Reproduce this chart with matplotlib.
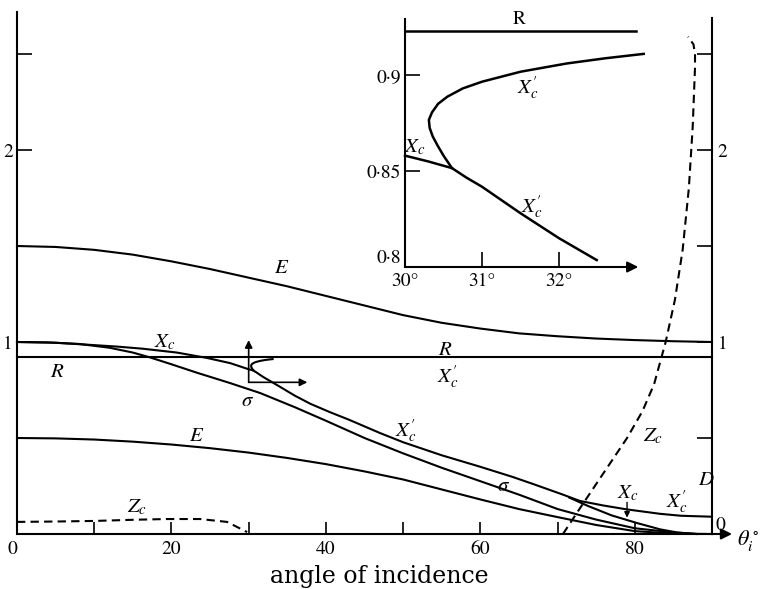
import numpy as np
import matplotlib.pyplot as plt

plt.rcParams['font.family'] = 'STIXGeneral'
plt.rcParams['mathtext.fontset'] = 'stix'

# --- curves against angle of incidence (degrees) ---
r_level = 0.923
r_x = [0, 90]

e_top_x = [0, 5, 10, 15, 20, 25, 30, 35, 40, 45, 50, 55, 60, 65, 70, 75, 80, 85, 90]
e_top_y = [1.50, 1.495, 1.48, 1.455, 1.42, 1.38, 1.335, 1.29, 1.24, 1.19,
           1.14, 1.10, 1.07, 1.045, 1.03, 1.018, 1.01, 1.004, 1.0]

e_low_x = [0, 5, 10, 15, 20, 25, 30, 35, 40, 45, 50, 55, 60, 65, 70, 75, 80, 85, 90]
e_low_y = [0.50, 0.498, 0.492, 0.481, 0.466, 0.447, 0.424, 0.396, 0.364, 0.326,
           0.284, 0.232, 0.18, 0.13, 0.088, 0.047, 0.015, 0.002, 0.0]

sigma_x = [0, 4, 8, 12, 15, 17.2, 20, 23.3, 27.6, 31.5, 36, 40, 45, 50, 55,
           60, 65, 70, 75, 80, 85, 88]
sigma_y = [1.0, 0.998, 0.99, 0.97, 0.945, 0.92, 0.884, 0.84, 0.786, 0.734, 0.66,
           0.59, 0.50, 0.42, 0.345, 0.275, 0.205, 0.13, 0.075, 0.03, 0.008, 0.0]

# X_c before it meets X_c' near 30.6 deg, and after it leaves near 71.5 deg
xc_head_x = [0, 5, 9.5, 13, 16.3, 20.7, 24.6, 27.6, 30.0, 30.3, 30.61]
xc_head_y = [1.0, 0.996, 0.985, 0.976, 0.965, 0.945, 0.917, 0.89, 0.858, 0.855, 0.8515]
xc_tail_x = [71.5, 74, 77, 80.3, 83.3, 85.5, 88]
xc_tail_y = [0.19, 0.145, 0.097, 0.057, 0.024, 0.008, 0.0]

# X_c' around its turning point (also drawn in the enlarged panel)
xcp_near_x = [33.1, 32.6, 32.1, 31.5, 31.0, 30.75, 30.55, 30.43, 30.35, 30.31, 30.32,
              30.36, 30.42, 30.5, 30.61, 30.8, 31.0, 31.5, 32.0, 32.49]
xcp_near_y = [0.911, 0.9087, 0.906, 0.9017, 0.8965, 0.893, 0.8887, 0.885, 0.8805,
              0.8766, 0.8725, 0.868, 0.8635, 0.858, 0.8515, 0.8465, 0.8418, 0.828,
              0.815, 0.8036]
# X_c' lower branch continued to grazing incidence
xcp_far_x = [34, 36, 38, 40.5, 43, 47, 50, 55, 60, 64.2, 67, 70.7, 72.9, 76, 79,
             83.3, 86, 90]
xcp_far_y = [0.768, 0.72, 0.678, 0.635, 0.595, 0.526, 0.478, 0.41, 0.35, 0.297,
             0.258, 0.205, 0.172, 0.148, 0.128, 0.105, 0.095, 0.09]

zc_left_x = [0, 5, 10, 15, 19.4, 23.7, 27.2, 29.8]
zc_left_y = [0.063, 0.065, 0.068, 0.074, 0.078, 0.078, 0.063, 0.01]
zc_right_x = [70.7, 73, 76, 79, 81, 82.5, 84, 85.2, 86.2, 87.0, 87.5, 87.8, 87.8, 87.6, 86.9]
zc_right_y = [0.0, 0.14, 0.32, 0.50, 0.64, 0.78, 1.0, 1.22, 1.48, 1.80, 2.12, 2.43,
              2.50, 2.55, 2.59]

inset_x = [30, 33]
main_ticks_x = [0, 10, 20, 30, 40, 50, 60, 70, 80]
main_labels_x = ['0', '', '20', '', '40', '', '60', '', '80']

XCP = r"$X_c^{\prime}$"

lw = 1.5
fig = plt.figure(figsize=(7.64, 5.89), dpi=100)
ax = fig.add_axes([17 / 764, 55 / 589, 695 / 764, 2.72 * 192 / 589])
ax.set_xlim(0, 90)
ax.set_ylim(0, 2.72)
for s in ['top', 'bottom', 'right']:
    ax.spines[s].set_visible(False)
ax.spines['left'].set_linewidth(lw)

ax.set_xticks(main_ticks_x)
ax.set_xticklabels(main_labels_x)
ax.set_yticks([1, 2, 2.5])
ax.set_yticklabels(['1', '2', ''])
ax.tick_params(axis='x', direction='in', length=9, width=1.2, labelsize=14, pad=5)
ax.tick_params(axis='y', direction='in', length=11, width=1.2, labelsize=14, pad=3)
ax.get_xticklabels()[0].set_ha('right')

axr = ax.twinx()
axr.set_ylim(0, 2.72)
for s in ['top', 'bottom', 'left']:
    axr.spines[s].set_visible(False)
axr.spines['right'].set_bounds(0, 2.69)
axr.spines['right'].set_linewidth(lw)
axr.set_yticks([0.5, 1, 1.5, 2, 2.5])
axr.set_yticklabels(['', '1', '', '2', ''])
axr.tick_params(axis='y', direction='in', length=11, width=1.2, labelsize=14, pad=4)

# x axis with arrow head
ax.annotate('', xy=(92.6, 0), xytext=(0, 0), annotation_clip=False,
            arrowprops=dict(arrowstyle='-|>', lw=lw, color='k', mutation_scale=16,
                            shrinkA=0, shrinkB=0))

k = dict(color='k', lw=lw, clip_on=False)
ax.plot(r_x, [r_level, r_level], **k)
ax.plot(e_top_x, e_top_y, **k)
ax.plot(e_low_x, e_low_y, **k)
ax.plot(sigma_x, sigma_y, **k)
ax.plot(xc_head_x, xc_head_y, **k)
ax.plot(xc_tail_x, xc_tail_y, **k)
ax.plot(xcp_near_x + xcp_far_x, xcp_near_y + xcp_far_y, **k)
ax.plot(zc_left_x, zc_left_y, ls=(0, (4, 2.5)), **k)
ax.plot(zc_right_x, zc_right_y, ls=(0, (4, 2.5)), **k)

# small axes marking the enlarged region
arr = dict(arrowstyle='-|>', lw=1.2, color='k', mutation_scale=11, shrinkA=0, shrinkB=0)
ax.annotate('', xy=(inset_x[0], 1.01), xytext=(inset_x[0], 0.79), arrowprops=arr)
ax.annotate('', xy=(37.6, 0.79), xytext=(inset_x[0], 0.79), arrowprops=arr)

# X_c pointer near grazing incidence
ax.annotate('', xy=(79.0, 0.085), xytext=(79.0, 0.165),
            arrowprops=dict(arrowstyle='-|>', lw=1.0, color='k', mutation_scale=8,
                            shrinkA=0, shrinkB=0))

fs = 15
lab = dict(fontsize=fs, ha='center', va='center')
ax.text(34.3, 1.385, r'$E$', **lab)
ax.text(23.3, 0.51, r'$E$', **lab)
ax.text(19.2, 1.0, r'$X_c$', **lab)
ax.text(5.2, 0.844, r'$R$', **lab)
ax.text(29.9, 0.69, r'$\sigma$', **lab)
ax.text(55.4, 0.958, r'$R$', **lab)
ax.text(55.8, 0.818, XCP, **lab)
ax.text(50.3, 0.54, XCP, **lab)
ax.text(63.0, 0.25, r'$\sigma$', **lab)
ax.text(79.1, 0.213, r'$X_c$', **lab)
ax.text(85.5, 0.167, XCP, **lab)
ax.text(89.3, 0.28, r'$D$', **lab)
ax.text(82.3, 0.51, r'$Z_c$', **lab)
ax.text(15.5, 0.14, r'$Z_c$', **lab)
ax.text(90.4, 0.045, '0', fontsize=14, ha='left', va='center')
ax.text(94.7, -0.036, r'$\theta_i^\circ$', fontsize=16, ha='center', va='center')

fig.text(0.497, 0.022, 'angle of incidence', fontsize=17, family='DejaVu Serif',
         ha='center', va='center')

# enlarged view of the turning point of X_c'
axi = fig.add_axes([405 / 764, (589 - 267) / 589, 231 / 764, 0.129 * 1920 / 589])
axi.set_xlim(30, 33)
axi.set_ylim(0.8, 0.929)
axi.patch.set_alpha(0)
for s in ['top', 'bottom', 'right']:
    axi.spines[s].set_visible(False)
axi.spines['left'].set_linewidth(lw)
axi.set_xticks([30, 31, 32])
axi.set_xticklabels(['30°', '31°', '32°'])
axi.set_yticks([0.8, 0.85, 0.9])
axi.set_yticklabels(['0·8', '0·85', '0·9'])
axi.tick_params(direction='in', length=11, width=1.2, labelsize=14, pad=3)
axi.tick_params(axis='x', pad=4)
axi.get_yticklabels()[0].set_va('bottom')
axi.annotate('', xy=(33.03, 0.8), xytext=(30, 0.8), annotation_clip=False,
             arrowprops=dict(arrowstyle='-|>', lw=lw, color='k', mutation_scale=16,
                             shrinkA=0, shrinkB=0))
ki = dict(color='k', lw=1.8, clip_on=False)
axi.plot(inset_x, [r_level, r_level], **ki)
axi.plot(xcp_near_x, xcp_near_y, **ki)
axi.plot(xc_head_x[-3:], xc_head_y[-3:], **ki)
axi.text(31.48, 0.9243, 'R', fontsize=14, ha='center', va='bottom')
axi.text(30.13, 0.8625, r'$X_c$', **lab)
axi.text(31.6, 0.8932, XCP, **lab)
axi.text(31.65, 0.8313, XCP, **lab)

fig.savefig('out.png', dpi=100)
